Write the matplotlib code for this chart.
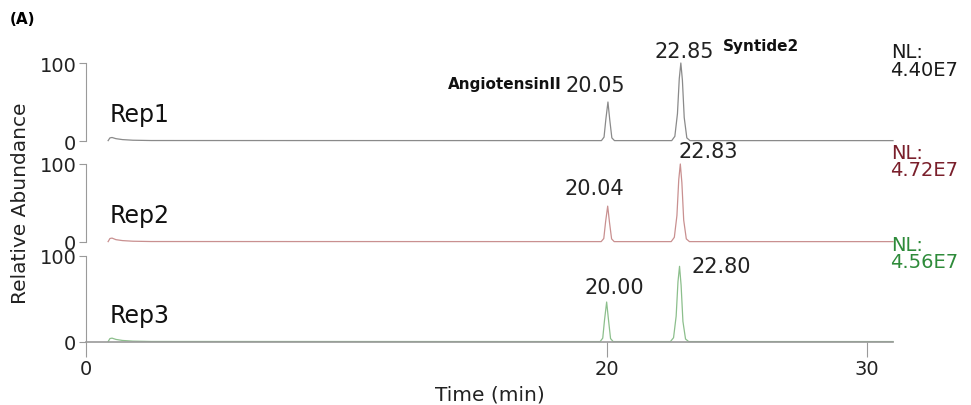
# chromatogram of three replicate injections (Rep1-3), stacked traces
import matplotlib.pyplot as plt

# trace data: retention time (min) / relative abundance (%)
rep1_time = [0.85, 0.92, 1.0, 1.15, 1.4, 1.8, 2.5, 19.8, 19.9, 19.97, 20.05, 20.12, 20.2, 20.3,
             22.5, 22.62, 22.72, 22.79, 22.85, 22.91, 22.98, 23.08, 23.2, 31.0]
rep1_int = [0.5, 4.0, 4.5, 3.0, 1.8, 1.0, 0.6, 0.5, 5.0, 28.0, 50.0, 27.0, 4.0, 0.5,
            0.5, 6.0, 35.0, 80.0, 100.0, 78.0, 30.0, 4.0, 0.5, 0.5]

rep2_time = [0.85, 0.92, 1.0, 1.15, 1.4, 1.8, 2.5, 19.79, 19.89, 19.96, 20.04, 20.11, 20.19, 20.29,
             22.48, 22.6, 22.7, 22.77, 22.83, 22.89, 22.96, 23.06, 23.18, 31.0]
rep2_int = [0.5, 4.5, 5.0, 3.0, 1.8, 1.0, 0.6, 0.5, 4.5, 26.0, 46.0, 25.0, 4.0, 0.5,
            0.5, 6.0, 34.0, 80.0, 100.0, 76.0, 28.0, 4.0, 0.5, 0.5]

rep3_time = [0.85, 0.92, 1.0, 1.15, 1.4, 1.8, 2.5, 19.75, 19.85, 19.92, 20.0, 20.07, 20.15, 20.25,
             22.45, 22.57, 22.67, 22.74, 22.8, 22.86, 22.93, 23.03, 23.15, 31.0]
rep3_int = [0.5, 4.0, 4.5, 3.0, 1.8, 1.0, 0.6, 0.5, 4.5, 26.0, 46.5, 26.0, 4.0, 0.5,
            0.5, 5.0, 30.0, 70.0, 88.0, 66.0, 24.0, 3.5, 0.5, 0.5]

rep_names = ['Rep1', 'Rep2', 'Rep3']
nl_values = ['4.40E7', '4.72E7', '4.56E7']
peak_rt = [[20.05, 22.85], [20.04, 22.83], [20.00, 22.80]]
peak_height = [[50.0, 100.0], [46.0, 100.0], [46.5, 88.0]]
x_ticks = [0, 20, 30]

traces = [(rep1_time, rep1_int), (rep2_time, rep2_int), (rep3_time, rep3_int)]
line_colors = ['#8a8a8a', '#c99090', '#8cbf8c']
nl_colors = ['#1a1a1a', '#7a1f2b', '#2e8b3a']
# label offsets (pixels) from each peak apex
label_offsets = [[(-13, 17), (3, 12)], [(-13, 18), (28, 13)], [(8, 15), (42, 0)]]
# axes boxes in pixels: (y of zero line, y of 100 line)
panel_px = [(142, 64), (243, 165), (343, 257)]

W, H = 971, 406
fig = plt.figure(figsize=(W / 100, H / 100), dpi=100)
x0, x1 = 86, 893
spine_col = '#9a9a9a'

for k in range(3):
    y0, y100 = panel_px[k]
    ax = fig.add_axes([x0 / W, 1 - y0 / H, (x1 - x0) / W, (y0 - y100) / H])
    t, inten = traces[k]
    ax.plot(t, inten, color=line_colors[k], lw=0.9, clip_on=False)
    ax.set_xlim(0, 31)
    ax.set_ylim(0, 100)
    for s in ['top', 'right']:
        ax.spines[s].set_visible(False)
    ax.spines['left'].set_color(spine_col)
    ax.set_yticks([0, 100])
    ax.set_yticklabels(['0', '100'])
    ax.tick_params(axis='y', direction='out', length=5, color=spine_col,
                   labelsize=14, labelcolor='#222222', pad=2)
    if k < 2:
        ax.spines['bottom'].set_visible(False)
        ax.set_xticks([])
    else:
        ax.spines['bottom'].set_color(spine_col)
        ax.spines['bottom'].set_linewidth(1.2)
        ax.set_xticks(x_ticks)
        ax.tick_params(axis='x', direction='out', length=11, color=spine_col,
                       labelsize=14, labelcolor='#222222', pad=1)
        ax.set_xlabel('Time (min)', fontsize=14.5, color='#222222', labelpad=5)
    ax.patch.set_alpha(0)

    # peak retention-time labels
    for j in range(2):
        dx, dy = label_offsets[k][j]
        ax.annotate(f'{peak_rt[k][j]:.2f}', xy=(peak_rt[k][j], peak_height[k][j]),
                    xytext=(dx, dy), textcoords='offset pixels', ha='center', va='center',
                    fontsize=15, color='#222222', annotation_clip=False)

    # replicate name and normalisation level
    fig.text(110 / W, 1 - (y0 - 20) / H, rep_names[k], fontsize=17, color='#111111',
             ha='left', va='baseline')
    fig.text(891 / W, 1 - (y100 - 11) / H, 'NL:', fontsize=14, color=nl_colors[k],
             ha='left', va='center')
    fig.text(890 / W, 1 - (y100 + 6) / H, nl_values[k], fontsize=14, color=nl_colors[k],
             ha='left', va='center')

# compound names on the Rep1 trace
fig.text(562 / W, 1 - 85 / H, 'AngiotensinII', fontsize=11, fontweight='bold',
         ha='right', va='center', color='#111111')
fig.text(723 / W, 1 - 47 / H, 'Syntide2', fontsize=11, fontweight='bold',
         ha='left', va='center', color='#111111')

fig.text(10 / W, 1 - 20 / H, '(A)', fontsize=11, fontweight='bold', ha='left', va='center')
fig.text(20 / W, 1 - 203 / H, 'Relative Abundance', fontsize=14.5, rotation=90,
         ha='center', va='center', color='#222222')

fig.savefig('out.png', dpi=100)
